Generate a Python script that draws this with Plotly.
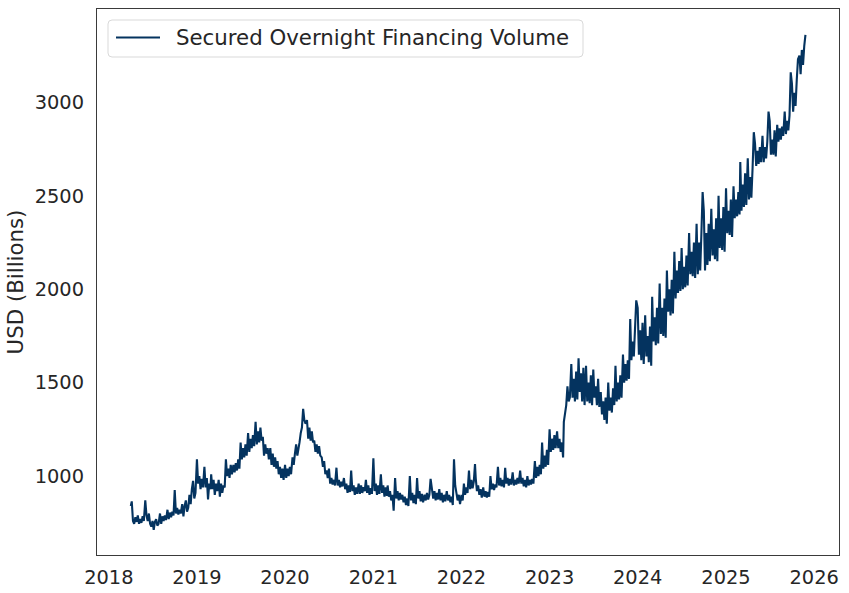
import pandas as pd
import plotly.graph_objects as go

series_name = "Secured Overnight Financing Volume"
y_title = "USD (Billions)"
sample_days = [1, 6, 11, 16, 21, 26]     # readings within each month

# USD billions, 6 readings per month
vol_2018 = [  # Apr..Dec
    840, 865, 760, 745, 780, 755,   790, 745, 770, 750, 785, 760,
    870, 790, 760, 800, 745, 730,   760, 712, 755, 770, 735, 745,
    800, 745, 785, 760, 790, 765,   820, 770, 805, 780, 810, 790,
    925, 800, 830, 795, 820, 800,   850, 785, 840, 870, 810, 830,
    900, 850, 930, 975, 880, 910]
vol_2019 = [
    1090, 960, 1000, 930, 985, 940,    1050, 940, 990, 875, 960, 930,
    1010, 930, 980, 900, 960, 920,     980, 890, 960, 910, 950, 940,
    1090, 1000, 1040, 990, 1060, 1010, 1060, 1020, 1070, 1030, 1090, 1040,
    1180, 1090, 1150, 1100, 1170, 1110, 1230, 1130, 1200, 1150, 1220, 1160,
    1290, 1170, 1240, 1180, 1260, 1190, 1210, 1110, 1170, 1120, 1150, 1090,
    1150, 1060, 1120, 1050, 1100, 1040, 1080, 1010, 1050, 990, 1040, 980]
vol_2020 = [
    1060, 990, 1040, 1000, 1050, 1010, 1100, 1060, 1120, 1170, 1110, 1140,
    1180, 1230, 1260, 1360, 1300, 1280, 1300, 1200, 1260, 1190, 1240, 1180,
    1190, 1130, 1170, 1120, 1160, 1110, 1100, 1050, 1080, 1010, 1030, 990,
    1040, 960, 990, 955, 980, 950,     1045, 950, 980, 940, 970, 945,
    990, 930, 960, 910, 950, 915,      1030, 920, 950, 900, 940, 905,
    960, 905, 950, 910, 940, 920,      980, 910, 950, 900, 935, 905]
vol_2021 = [
    1095, 920, 960, 900, 950, 905,     1010, 910, 950, 890, 940, 895,
    950, 890, 920, 870, 900, 815,      990, 880, 920, 870, 910, 875,
    900, 860, 890, 845, 880, 840,      1000, 870, 910, 855, 900, 850,
    990, 880, 920, 865, 905, 860,      900, 870, 910, 875, 900, 985,
    940, 880, 920, 870, 910, 875,      930, 870, 910, 860, 900, 865,
    920, 870, 900, 860, 890, 845,      1090, 950, 910, 870, 900, 850]
vol_2022 = [
    900, 870, 960, 900, 940, 910,      1030, 930, 980, 935, 970, 1065,
    990, 920, 950, 900, 930, 885,      940, 890, 920, 885, 915, 890,
    1000, 930, 960, 925, 955, 940,     1050, 950, 990, 945, 980, 940,
    1045, 960, 990, 950, 985, 955,     1020, 950, 980, 955, 990, 960,
    1030, 960, 990, 945, 980, 940,     1000, 950, 980, 955, 985, 960,
    1080, 990, 1050, 1000, 1060, 1010, 1180, 1040, 1110, 1050, 1140, 1060]
vol_2023 = [
    1250, 1130, 1200, 1140, 1220, 1150, 1240, 1150, 1200, 1130, 1180, 1100,
    1290, 1330, 1380, 1480, 1400, 1420, 1600, 1420, 1520, 1400, 1560, 1410,
    1630, 1450, 1550, 1400, 1580, 1380, 1590, 1400, 1500, 1390, 1540, 1380,
    1570, 1420, 1480, 1380, 1520, 1370, 1450, 1330, 1400, 1300, 1420, 1280,
    1500, 1350, 1420, 1340, 1470, 1380, 1590, 1400, 1500, 1410, 1540, 1420,
    1650, 1500, 1600, 1510, 1620, 1520, 1840, 1620, 1720, 1640, 1800, 1940]
vol_2024 = [
    1900, 1650, 1780, 1620, 1820, 1600, 1860, 1640, 1750, 1610, 1800, 1590,
    1960, 1720, 1850, 1700, 1900, 1710, 2030, 1760, 1900, 1750, 1950, 1740,
    2100, 1880, 2000, 1860, 2050, 1870, 2200, 1950, 2100, 1980, 2150, 1990,
    2220, 2000, 2120, 2010, 2180, 2020, 2300, 2080, 2200, 2070, 2250, 2060,
    2350, 2080, 2250, 2100, 2300, 2520, 2420, 2100, 2300, 2130, 2350, 2150,
    2430, 2180, 2320, 2160, 2380, 2150, 2500, 2220, 2380, 2210, 2440, 2200]
vol_2025 = [  # Jan..Nov
    2540, 2300, 2420, 2290, 2480, 2280, 2550, 2380, 2480, 2390, 2520, 2400,
    2680, 2420, 2560, 2440, 2620, 2450, 2700, 2480, 2600, 2490, 2650, 2840,
    2780, 2660, 2740, 2670, 2760, 2680, 2820, 2680, 2760, 2700, 2790, 2950,
    2900, 2720, 2800, 2720, 2850, 2710, 2880, 2790, 2860, 2800, 2870, 2820,
    2950, 2830, 2900, 2850, 2930, 3160, 3100, 2950, 3050, 2980, 3120, 3230,
    3250, 3150, 3280, 3200, 3300, 3360]

yearly = {2018: vol_2018, 2019: vol_2019, 2020: vol_2020, 2021: vol_2021,
          2022: vol_2022, 2023: vol_2023, 2024: vol_2024, 2025: vol_2025}

dates, values = [], []
for year, vals in yearly.items():
    first_month = 4 if year == 2018 else 1
    n_months = len(vals) // len(sample_days)
    i = 0
    for m in range(first_month, first_month + n_months):
        for d in sample_days:
            dd = 2 if (year == 2018 and m == 4 and d == 1) else d
            dates.append(pd.Timestamp(year, m, dd))
            values.append(vals[i])
            i += 1

font_family = "DejaVu Sans, Liberation Sans, sans-serif"
text_color = "#262626"
line_color = "#04335f"
tick_size = 19.4
label_size = 21.3

# plot-area geometry in pixels (for the hand-drawn legend box)
W, H = 849, 593
ML, MR, MT, MB = 97, 10, 9, 38
PW, PH = W - ML - MR, H - MT - MB


def px_x(px):
    return (px - ML) / PW


def px_y(py):
    return (H - MB - py) / PH


fig = go.Figure()
fig.add_trace(go.Scatter(
    x=dates, y=values, mode="lines", name=series_name,
    line=dict(color=line_color, width=2.1),
    showlegend=False,
))

# legend (matplotlib-style rounded frame)
lx0, lx1, ly0, ly1, r = 108, 583, 20, 57, 4
rx, ry = r / PW, r / PH
X0, X1, Y0, Y1 = px_x(lx0), px_x(lx1), px_y(ly1), px_y(ly0)
path = (f"M {X0+rx},{Y0} L {X1-rx},{Y0} Q {X1},{Y0} {X1},{Y0+ry} "
        f"L {X1},{Y1-ry} Q {X1},{Y1} {X1-rx},{Y1} L {X0+rx},{Y1} "
        f"Q {X0},{Y1} {X0},{Y1-ry} L {X0},{Y0+ry} Q {X0},{Y0} {X0+rx},{Y0} Z")
fig.add_shape(type="path", path=path, xref="paper", yref="paper",
              line=dict(color="#d9d9d9", width=1), fillcolor="white", layer="above")
ly = px_y(37.5)
fig.add_shape(type="line", xref="paper", yref="paper",
              x0=px_x(116), x1=px_x(160), y0=ly, y1=ly,
              line=dict(color=line_color, width=2.1), layer="above")
fig.add_annotation(x=px_x(174), y=ly, xref="paper", yref="paper",
                   text=series_name, showarrow=False, xanchor="left", yanchor="middle",
                   font=dict(size=label_size, color=text_color, family=font_family))

fig.update_layout(
    width=W, height=H,
    margin=dict(l=ML, r=MR, t=MT, b=MB, autoexpand=False),
    paper_bgcolor="white", plot_bgcolor="white",
    font=dict(family=font_family, size=tick_size, color=text_color),
    showlegend=False,
)
fig.update_xaxes(
    type="date",
    range=["2017-11-13", "2026-04-14"],
    tick0="2018-01-01", dtick="M12", tickformat="%Y",
    showgrid=False, zeroline=False,
    showline=True, linecolor="#3a3a3a", linewidth=1.2, mirror=True,
    ticks="", ticklabelstandoff=5,
)
fig.update_yaxes(
    range=[578, 3499],
    tickvals=[1000, 1500, 2000, 2500, 3000],
    showgrid=False, zeroline=False,
    showline=True, linecolor="#3a3a3a", linewidth=1.2, mirror=True,
    ticks="", ticklabelstandoff=8,
    title=dict(text=y_title, standoff=5, font=dict(size=label_size, color=text_color)),
)

fig.write_html("out.html", config={"displayModeBar": False},
               post_script="document.body.style.margin='0';")
